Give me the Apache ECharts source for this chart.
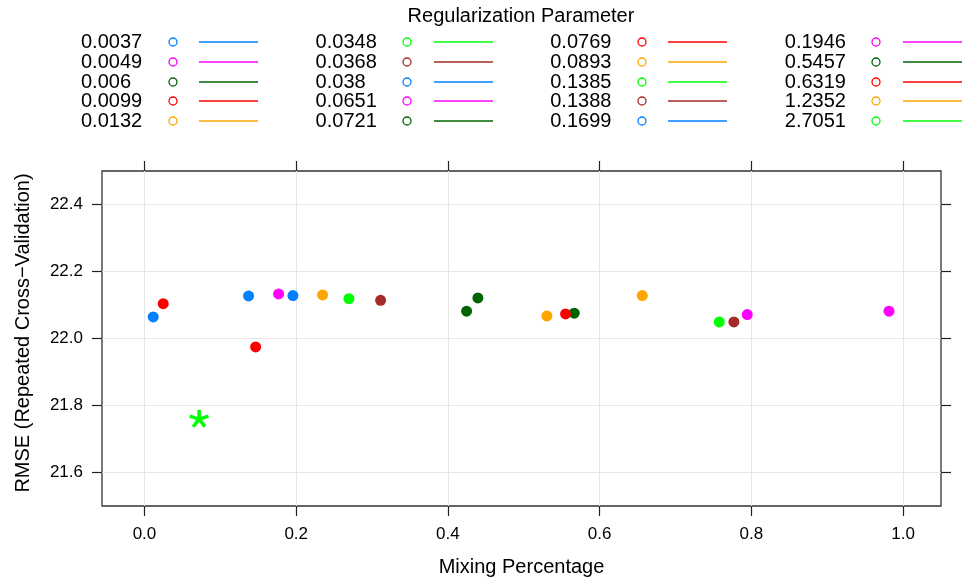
<!DOCTYPE html>
<html>
<head>
<meta charset="utf-8">
<script src="https://cdn.jsdelivr.net/npm/echarts@6/dist/echarts.min.js"></script>
<style>html,body{margin:0;padding:0;background:#fff}#c{width:964px;height:583px}</style>
</head>
<body>
<div id="c"></div>
<script>
// ---- data ----
const lambdas = ['0.0037','0.0049','0.006','0.0099','0.0132','0.0348','0.0368','0.038','0.0651','0.0721',
                 '0.0769','0.0893','0.1385','0.1388','0.1699','0.1946','0.5457','0.6319','1.2352','2.7051'];
const mixing  = [0.0115,0.1768,0.4246,0.0247,0.2348,0.0720,0.3113,0.1372,0.7946,0.4395,
                 0.1465,0.5305,0.2695,0.7770,0.1957,0.9814,0.5665,0.5551,0.6562,0.7577];
const rmse    = [22.0645,22.133,22.0815,22.104,22.130,21.7606,22.114,22.127,22.0713,22.121,
                 21.975,22.0675,22.119,22.0496,22.128,22.0815,22.0755,22.0734,22.128,22.0496];
const bestIndex = 5;
const xTicks = [0.0,0.2,0.4,0.6,0.8,1.0];
const yTicks = [21.6,21.8,22.0,22.2,22.4];
const X_MIN = -0.056, X_MAX = 1.05;
const Y_MIN = 21.5, Y_MAX = 22.5;
const legendTitle = 'Regularization Parameter';
const xTitle = 'Mixing Percentage';
const yTitle = 'RMSE (Repeated Cross\u2212Validation)';

// ---- style / layout ----
const palette = ['#0080ff','#ff00ff','#006400','#ff0000','#ffa500','#00ff00','#a52a2a'];
const FONT = 'Liberation Sans, Arial, sans-serif';
const G = {left:102, right:23, top:171, bottom:77};
const W = 964, H = 583;
const plotW = W - G.left - G.right, plotH = H - G.top - G.bottom;

// asterisk symbol (5 arms)
function asteriskPath(){
  const L = 10, t = 1.8, c = 12;
  let s = '';
  for (let k = 0; k < 5; k++){
    const a = (-90 + 72*k) * Math.PI/180;
    const dx = Math.cos(a), dy = Math.sin(a), nx = -dy, ny = dx;
    const p = [[c+nx*t, c+ny*t],[c+dx*L+nx*t, c+dy*L+ny*t],[c+dx*L-nx*t, c+dy*L-ny*t],[c-nx*t, c-ny*t]];
    s += 'M' + p.map(q => q[0].toFixed(3)+' '+q[1].toFixed(3)).join(' L') + ' Z ';
  }
  return 'path://' + s;
}

const series = [];
lambdas.forEach((lam,i)=>{
  const col = palette[i % palette.length];
  const isBest = i === bestIndex;
  series.push({
    type:'scatter', name:lam, z:3,
    data:[[mixing[i], rmse[i]]],
    symbol: isBest ? asteriskPath() : 'circle',
    symbolSize: isBest ? [20,19] : 11,
    symbolKeepAspect: true,
    itemStyle:{color:col, opacity:1},
    emphasis:{disabled:true}
  });
});

// legend drawn as graphic
const graphic = [];
graphic.push({type:'text', x:521, y:16, style:{text:legendTitle, font:'20px '+FONT, fill:'#000', align:'center', verticalAlign:'middle'}});
lambdas.forEach((lam,i)=>{
  const col = Math.floor(i/5), row = i % 5;
  const x0 = 81 + col*234.6, y0 = Math.round(42 + row*19.75);
  const c = palette[i % palette.length];
  graphic.push({type:'text', x:x0, y:y0, style:{text:lam, font:'20px '+FONT, fill:'#000', align:'left', verticalAlign:'middle'}});
  graphic.push({type:'circle', shape:{cx:Math.round(x0+91.5), cy:y0, r:4}, style:{fill:'none', stroke:c, lineWidth:1.3}});
  graphic.push({type:'line', shape:{x1:Math.round(x0+118), y1:y0, x2:Math.round(x0+177), y2:y0}, style:{stroke:c, lineWidth:1.5}});
});
graphic.push({type:'text', x:23, y:333, rotation:Math.PI/2,
  style:{text:yTitle, font:'20px '+FONT, fill:'#000', align:'center', verticalAlign:'middle'}});

const tickStyle = {color:'#222', width:1.2};
const gridStyle = {color:'#e6e6e6', width:1};
const noLine = {show:false, onZero:false};
const option = {
  animation:false,
  backgroundColor:'#fff',
  textStyle:{fontFamily:FONT},
  grid:{left:G.left, right:G.right, top:G.top, bottom:G.bottom, show:true, borderColor:'#333', borderWidth:1.3,
        backgroundColor:'transparent', containLabel:false, outerBoundsMode:'none'},
  xAxis:[
    // grid lines (full-height inner ticks)
    {type:'value', position:'bottom', min:X_MIN, max:X_MAX, silent:true,
     axisLine:noLine, splitLine:{show:false}, axisLabel:{show:false},
     axisTick:{show:true, customValues:xTicks, length:plotH, inside:true, lineStyle:gridStyle}},
    {type:'value', position:'bottom', min:X_MIN, max:X_MAX,
     axisLine:noLine, splitLine:{show:false},
     axisTick:{show:true, customValues:xTicks, length:10, inside:false, lineStyle:tickStyle},
     axisLabel:{show:true, customValues:xTicks, formatter:v=>Number(v).toFixed(1), fontSize:17, color:'#000', margin:20, fontFamily:FONT},
     name:xTitle, nameLocation:'middle', nameGap:51, nameTextStyle:{fontSize:20, color:'#000', fontFamily:FONT}},
    {type:'value', position:'top', min:X_MIN, max:X_MAX,
     axisLine:noLine, splitLine:{show:false},
     axisTick:{show:true, customValues:xTicks, length:10, inside:false, lineStyle:tickStyle},
     axisLabel:{show:false}}
  ],
  yAxis:[
    {type:'value', position:'left', min:Y_MIN, max:Y_MAX, silent:true,
     axisLine:noLine, splitLine:{show:false}, axisLabel:{show:false},
     axisTick:{show:true, customValues:yTicks, length:plotW, inside:true, lineStyle:gridStyle}},
    {type:'value', position:'left', min:Y_MIN, max:Y_MAX,
     axisLine:noLine, splitLine:{show:false},
     axisTick:{show:true, customValues:yTicks, length:10, inside:false, lineStyle:tickStyle},
     axisLabel:{show:true, customValues:yTicks, formatter:v=>Number(v).toFixed(1), fontSize:17, color:'#000', margin:19, fontFamily:FONT}},
    {type:'value', position:'right', min:Y_MIN, max:Y_MAX,
     axisLine:noLine, splitLine:{show:false},
     axisTick:{show:true, customValues:yTicks, length:10, inside:false, lineStyle:tickStyle},
     axisLabel:{show:false}}
  ],
  series:series,
  graphic:graphic
};
const chart = echarts.init(document.getElementById('c'), null, {renderer:'canvas'});
chart.setOption(option);
</script>
</body>
</html>
